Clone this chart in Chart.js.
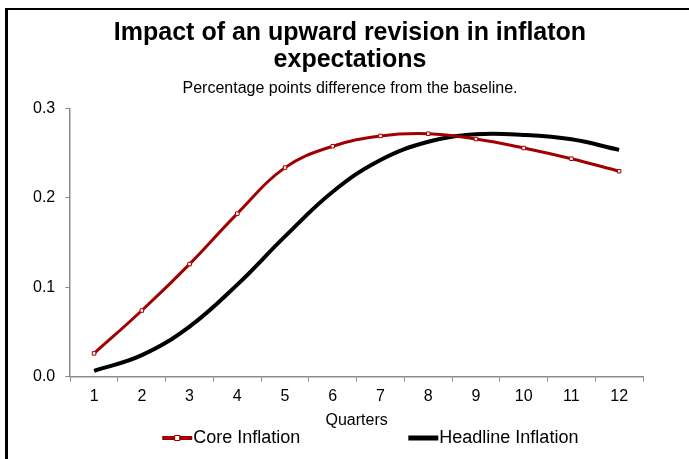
<!DOCTYPE html>
<html>
<head>
<meta charset="utf-8">
<script src="https://cdn.jsdelivr.net/npm/chart.js@4.4.1/dist/chart.umd.min.js"></script>
<style>
    html, body { margin: 0; padding: 0; background: #fff; }
    #wrap { position: relative; width: 689px; height: 459px; overflow: hidden; }
    #chart { position: absolute; left: 0; top: 0; }
    /* frame of the original slide: top and left edges only */
    .edge { position: absolute; background: #000; pointer-events: none; }
    #edgeTop { left: 5px; top: 8px; width: 684px; height: 2px; }
    #edgeLeft { left: 5px; top: 8px; width: 3px; height: 451px; }
</style>
</head>
<body>
<div id="wrap">
    <canvas id="chart" width="689" height="459"></canvas>
    <div class="edge" id="edgeTop"></div>
    <div class="edge" id="edgeLeft"></div>
</div>
<script>
// Data
const quarters = ['1', '2', '3', '4', '5', '6', '7', '8', '9', '10', '11', '12'];
const coreInflation = [0.026, 0.074, 0.126, 0.1825, 0.234, 0.258, 0.2695, 0.272, 0.266, 0.256, 0.244, 0.230];
const headlineInflation = [0.0064, 0.024, 0.056, 0.103, 0.157, 0.207, 0.2426, 0.263, 0.2713, 0.2706, 0.2657, 0.2539];
const yTicks = [0.0, 0.1, 0.2, 0.3];

const FONT = "'Liberation Sans', Arial, sans-serif";
const AXIS_GREY = '#8c8c8c';
const CORE_RED = '#a00000';

// Legend drawn by hand so the two items sit far apart like the original
const bottomLegend = {
    id: 'bottomLegend',
    afterDraw(chart) {
        const ctx = chart.ctx;
        const area = chart.chartArea;
        const y = chart.height - 21;
        let x = area.left + 92;
        ctx.save();
        ctx.font = '18px ' + FONT;
        ctx.textBaseline = 'middle';
        chart.data.datasets.forEach(ds => {
            // line sample
            ctx.strokeStyle = ds.borderColor;
            ctx.lineWidth = ds.borderWidth + 1;
            ctx.beginPath();
            ctx.moveTo(x, y);
            ctx.lineTo(x + 30, y);
            ctx.stroke();
            if (ds.pointRadius > 0) {
                ctx.fillStyle = ds.pointBackgroundColor;
                ctx.strokeStyle = ds.pointBorderColor;
                ctx.lineWidth = 1;
                ctx.fillRect(x + 12.5, y - 2.5, 5, 5);
                ctx.strokeRect(x + 12.5, y - 2.5, 5, 5);
            }
            ctx.fillStyle = '#000';
            ctx.fillText(ds.label, x + 31, y);
            x += 31 + ctx.measureText(ds.label).width + 108;
        });
        ctx.restore();
    }
};

const ctx = document.getElementById('chart').getContext('2d');
new Chart(ctx, {
    type: 'line',
    data: {
        labels: quarters,
        datasets: [
            {
                label: 'Core Inflation',
                data: coreInflation,
                borderColor: CORE_RED,
                borderWidth: 3,
                tension: 0.4,
                pointStyle: 'rect',
                pointRadius: 2.5,
                pointBackgroundColor: '#fff',
                pointBorderColor: CORE_RED,
                pointBorderWidth: 1,
                order: 1
            },
            {
                label: 'Headline Inflation',
                data: headlineInflation,
                borderColor: '#000',
                borderWidth: 4,
                tension: 0.4,
                pointRadius: 0,
                order: 2
            }
        ]
    },
    options: {
        responsive: false,
        animation: false,
        layout: {
            padding: { top: 20, left: 23, right: 12, bottom: 29 }
        },
        plugins: {
            legend: { display: false },
            tooltip: { enabled: false },
            title: {
                display: true,
                text: ['Impact of an upward revision in inflaton', 'expectations'],
                color: '#000',
                font: { family: FONT, size: 25, weight: 'bold', lineHeight: 1.07 },
                padding: { top: 0, bottom: 0 }
            },
            subtitle: {
                display: true,
                text: 'Percentage points difference from the baseline.',
                color: '#000',
                font: { family: FONT, size: 16, lineHeight: 1.2 },
                padding: { top: 5, bottom: 11 }
            }
        },
        scales: {
            x: {
                offset: true,
                grid: {
                    offset: true,
                    drawOnChartArea: false,
                    drawTicks: true,
                    tickLength: 5,
                    color: AXIS_GREY
                },
                border: { color: AXIS_GREY, width: 1.5 },
                ticks: {
                    color: '#000',
                    padding: 5,
                    maxRotation: 0,
                    font: { family: FONT, size: 16 }
                },
                title: {
                    display: true,
                    text: 'Quarters',
                    color: '#000',
                    font: { family: FONT, size: 16, lineHeight: 1.2 },
                    padding: { top: 0, bottom: 0 }
                }
            },
            y: {
                min: 0,
                max: 0.3,
                afterBuildTicks(scale) {
                    scale.ticks = yTicks.map(v => ({ value: v }));
                },
                grid: {
                    drawOnChartArea: false,
                    drawTicks: true,
                    tickLength: 5,
                    color: AXIS_GREY
                },
                border: { color: AXIS_GREY, width: 1.5 },
                ticks: {
                    color: '#000',
                    padding: 10,
                    font: { family: FONT, size: 16 },
                    callback: v => Number(v).toFixed(1)
                }
            },
            // empty spacer on the right so the title centres like the original
            spacer: {
                type: 'linear',
                position: 'right',
                afterFit(scale) { scale.width = 34; },
                grid: { display: false },
                border: { display: false },
                ticks: { display: false }
            }
        }
    },
    plugins: [bottomLegend]
});
</script>
</body>
</html>
